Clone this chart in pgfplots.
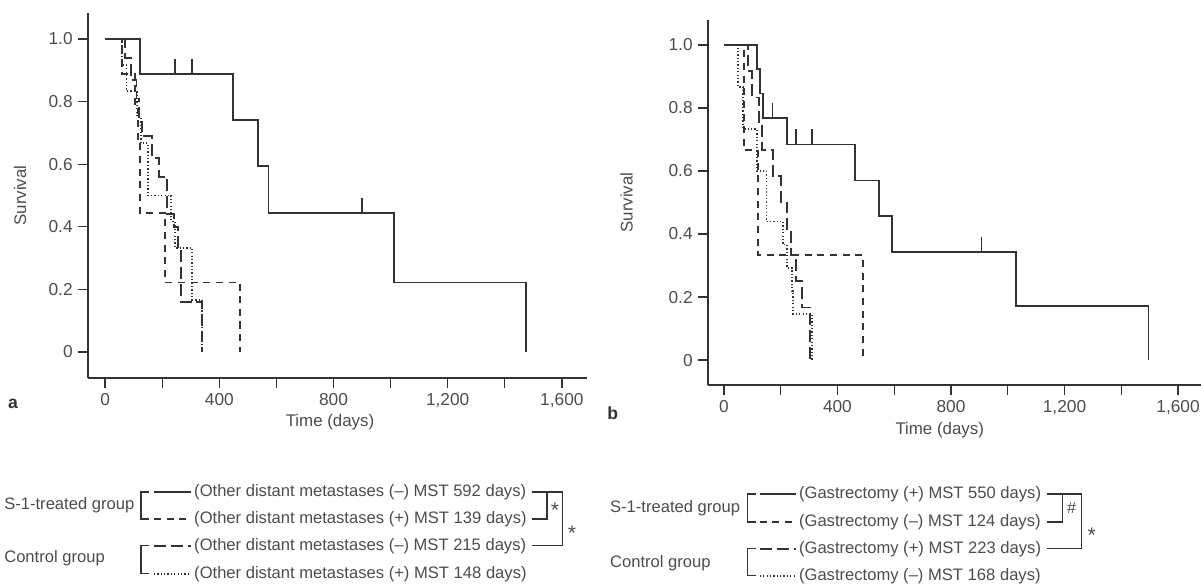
\documentclass[border=0pt]{standalone}
\usepackage{fontspec}
\setmainfont{Liberation Sans}
\usepackage{pgfplots}
\pgfplotsset{compat=1.18}
\definecolor{ln}{gray}{0.2}
\definecolor{tx}{gray}{0.3}
\tikzset{
  sS/.style={ln, line width=1.3pt},
  sD/.style={ln, line width=1.3pt, dash pattern=on 5pt off 4pt},
  sL/.style={ln, line width=1.3pt, dash pattern=on 8.5pt off 3.5pt},
  sO/.style={ln, line width=1.3pt, dash pattern=on 0.9pt off 1.5pt},
}
\pgfplotsset{km/.style={
  scale only axis,
  axis x line=bottom, axis y line=left,
  axis line style={-, ln, line width=1pt},
  tick align=outside, major tick length=0.26cm,
  tick style={ln, line width=0.9pt},
  xtick={0,200,400,600,800,1000,1200,1400,1600},
  xticklabels={0,,400,,800,,{1,200},,{1,600}},
  ytick={0,0.2,0.4,0.6,0.8,1},
  yticklabels={0,0.2,0.4,0.6,0.8,1.0},
  /pgf/number format/assume math mode=true,
  ticklabel style={font=\fontsize{12.3}{14}\selectfont, text=tx},
  label style={font=\fontsize{12}{14}\selectfont, text=tx},
  xlabel={Time (days)}, ylabel={Survival},
  clip=false,
  cens/.style={only marks, mark=|, mark size=0.19cm, mark options={ln, line width=0.9pt}},
}}
\begin{document}
\begin{tikzpicture}
\path[use as bounding box] (0,0) rectangle (30.025cm,14.65cm);
% ---------------- panel a ----------------
\begin{axis}[km, anchor=south west, at={(2.2cm,5.2cm)},
  width=12.475cm, height=9.125cm,
  xmin=-60, xmax=1688, ymin=-0.083, ymax=1.083,
  xlabel style={at={(axis description cs:0.485,-0.122)}, anchor=center},
  ylabel style={at={(axis description cs:-0.136,0.5)}, anchor=center}]
\addplot[sS, const plot] coordinates {(0,1)(122,0.889)(447,0.741)(536,0.593)(572,0.444)(1012,0.222)(1474,0)};
\addplot[cens] coordinates {(245,0.913)(304,0.913)(900,0.468)};
\addplot[sD, const plot] coordinates {(0,1)(60,0.889)(105,0.778)(115,0.667)(122,0.444)(210,0.222)(473,0)};
\addplot[sL, const plot] coordinates {(0,1)(70,0.94)(90,0.87)(110,0.81)(118,0.75)(128,0.69)(165,0.62)(190,0.56)(218,0.44)(240,0.40)(255,0.33)(265,0.16)(338,0)};
\addplot[sO, const plot] coordinates {(0,1)(60,0.917)(75,0.833)(112,0.75)(125,0.667)(150,0.5)(232,0.417)(245,0.333)(305,0.167)(338,0)};
\end{axis}
% ---------------- panel b ----------------
\begin{axis}[km, anchor=south west, at={(17.7cm,5.025cm)},
  width=12.325cm, height=9.125cm,
  xmin=-56, xmax=1681, ymin=-0.079, ymax=1.079,
  xlabel style={at={(axis description cs:0.47,-0.124)}, anchor=center},
  ylabel style={at={(axis description cs:-0.165,0.5)}, anchor=center}]
\addplot[sS, const plot] coordinates {(0,1)(116,0.923)(127,0.846)(137,0.769)(222,0.684)(461,0.570)(546,0.456)(591,0.342)(1028,0.171)(1496,0)};
\addplot[cens] coordinates {(172,0.793)(254,0.708)(310,0.708)(908,0.366)};
\addplot[sD, const plot] coordinates {(0,1)(70,0.667)(120,0.333)(490,0)};
\addplot[sL, const plot] coordinates {(0,1)(85,0.917)(100,0.833)(125,0.75)(135,0.667)(172,0.583)(200,0.5)(222,0.417)(235,0.333)(255,0.25)(275,0.167)(303,0)};
\addplot[sO, const plot] coordinates {(0,1)(50,0.867)(67,0.733)(116,0.6)(150,0.44)(208,0.367)(222,0.293)(240,0.22)(243,0.147)(310,0)};
\end{axis}
% ---------------- labels and legends ----------------
\begin{scope}[yshift=14.65cm, x=0.025cm, y=-0.025cm, font=\fontsize{11.8}{13}\selectfont]
\node[text=ln, font=\fontsize{12.5}{14}\selectfont\bfseries, anchor=center] at (13,404) {a};
\node[text=ln, font=\fontsize{12.5}{14}\selectfont\bfseries, anchor=center] at (613,413) {b};
% left legend
\node[text=tx, anchor=west, inner sep=0] at (4,505) {S-1-treated group};
\node[text=tx, anchor=west, inner sep=0] at (4,558) {Control group};
\draw[ln, line width=0.9pt] (149,492)--(141,492)--(141,519)--(149,519);
\draw[ln, line width=0.9pt] (149,546)--(141,546)--(141,574)--(149,574);
\draw[sS] (154,492)--(191,492);
\draw[sD] (154,519)--(191,519);
\draw[sL] (154,546)--(191,546);
\draw[sO] (154,574)--(191,574);
\node[text=tx, anchor=west, inner sep=0] at (194,492) {(Other distant metastases (–) MST 592 days)};
\node[text=tx, anchor=west, inner sep=0] at (194,519) {(Other distant metastases (+) MST 139 days)};
\node[text=tx, anchor=west, inner sep=0] at (194,546) {(Other distant metastases (–) MST 215 days)};
\node[text=tx, anchor=west, inner sep=0] at (194,574) {(Other distant metastases (+) MST 148 days)};
\draw[ln, line width=0.9pt] (532,492)--(563,492)--(563,546)--(532,546);
\draw[ln, line width=0.9pt] (532,519)--(547,519)--(547,492);
\node[text=tx, font=\fontsize{15}{15}\selectfont] at (555,510) {*};
\node[text=tx, font=\fontsize{15}{15}\selectfont] at (572,533) {*};
% right legend
\node[text=tx, anchor=west, inner sep=0] at (610,508) {S-1-treated group};
\node[text=tx, anchor=west, inner sep=0] at (610,563) {Control group};
\draw[ln, line width=0.9pt] (756,494)--(748,494)--(748,522)--(756,522);
\draw[ln, line width=0.9pt] (756,549)--(748,549)--(748,576)--(756,576);
\draw[sS] (760,494)--(796,494);
\draw[sD] (760,522)--(796,522);
\draw[sL] (760,549)--(796,549);
\draw[sO] (760,576)--(796,576);
\node[text=tx, anchor=west, inner sep=0] at (799,494) {(Gastrectomy (+) MST 550 days)};
\node[text=tx, anchor=west, inner sep=0] at (799,522) {(Gastrectomy (–) MST 124 days)};
\node[text=tx, anchor=west, inner sep=0] at (799,549) {(Gastrectomy (+) MST 223 days)};
\node[text=tx, anchor=west, inner sep=0] at (799,576) {(Gastrectomy (–) MST 168 days)};
\draw[ln, line width=0.9pt] (1047,494)--(1082,494)--(1082,549)--(1047,549);
\draw[ln, line width=0.9pt] (1047,522)--(1063,522)--(1063,494);
\node[text=tx, font=\fontsize{11.5}{11}\selectfont] at (1072,508) {\#};
\node[text=tx, font=\fontsize{15}{15}\selectfont] at (1092,535) {*};
\end{scope}
\end{tikzpicture}
\end{document}
